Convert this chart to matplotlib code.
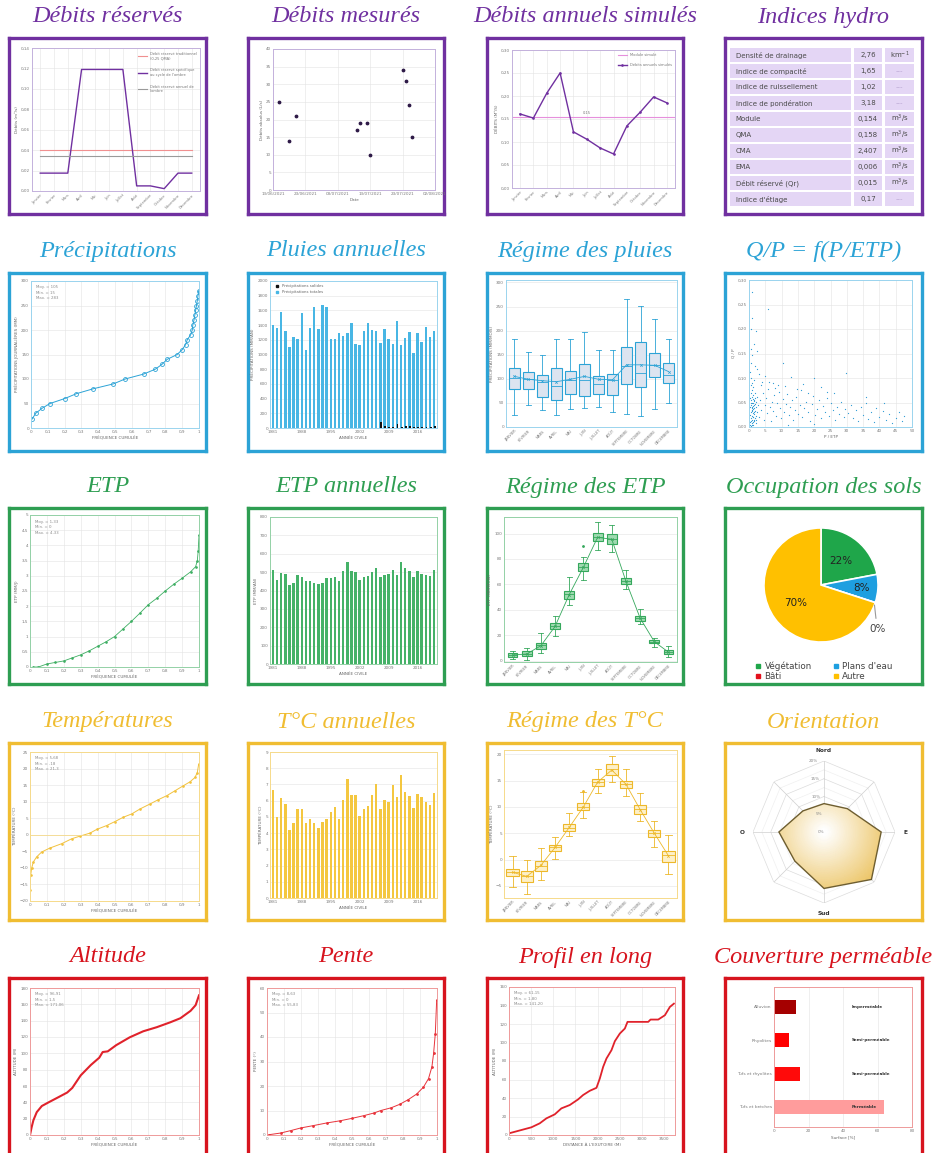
import numpy as np
import pandas as pd
import matplotlib
matplotlib.use("Agg")
import matplotlib.pyplot as plt
import matplotlib.dates as mdates
from matplotlib.colors import LinearSegmentedColormap
from matplotlib.lines import Line2D
from matplotlib.patches import Rectangle
from matplotlib.ticker import FuncFormatter

# ---------------------------------------------------------------- données
MOIS = ["Janvier", "Février", "Mars", "Avril", "Mai", "Juin", "Juillet", "Août",
        "Septembre", "Octobre", "Novembre", "Décembre"]
ANNEES = np.arange(1981, 2021)

qr_traditionnel = 0.040
qr_annuel = 0.034
qr_specifique = [0.0175, 0.0175, 0.0175, 0.119, 0.119, 0.119, 0.119, 0.005, 0.005, 0.0023, 0.0175, 0.0175]

mesure_dates = ["15/06/2021", "18/06/2021", "20/06/2021", "09/07/2021", "10/07/2021", "12/07/2021",
                "13/07/2021", "23/07/2021", "24/07/2021", "25/07/2021", "26/07/2021"]
mesure_debits = [25, 14, 21, 17, 19, 19, 10, 34, 31, 24, 15]

debits_simules = [0.161, 0.152, 0.206, 0.250, 0.122, 0.106, 0.087, 0.074, 0.135, 0.165, 0.198, 0.185]
module_simule = 0.154

indices_noms = ["Densité de drainage", "Indice de compacité", "Indice de ruissellement",
                "Indice de pondération", "Module", "QMA", "CMA", "EMA", "Débit réservé (Qr)",
                "Indice d'étiage"]
indices_valeurs = ["2,76", "1,65", "1,02", "3,18", "0,154", "0,158", "2,407", "0,006", "0,015", "0,17"]
indices_unites = ["km$^{-1}$", "---", "---", "---", "m$^3$/s", "m$^3$/s", "m$^3$/s", "m$^3$/s",
                  "m$^3$/s", "---"]

precip_freq = [0.006, 0.028, 0.065, 0.113, 0.2, 0.27, 0.37, 0.49, 0.56, 0.67, 0.74, 0.78, 0.81, 0.87,
               0.9, 0.92, 0.93, 0.95, 0.96, 0.963, 0.97, 0.975, 0.98, 0.985, 0.99, 0.994, 0.998]
precip_val = [18, 30, 40, 50, 60, 70, 80, 90, 100, 110, 120, 130, 140, 150, 160, 170, 180, 190, 200,
              210, 220, 230, 240, 250, 260, 270, 280]

pluies_totales = [1408, 1367, 1585, 1317, 1107, 1239, 1212, 1558, 1057, 1362, 1645, 1353, 1667, 1645,
                  1216, 1207, 1298, 1257, 1298, 1435, 1139, 1134, 1326, 1430, 1335, 1317, 1152, 1348,
                  1207, 1143, 1458, 1125, 1225, 1303, 1025, 1294, 1171, 1371, 1244, 1317]
pluies_solides = [0, 0, 0, 0, 0, 0, 0, 0, 0, 0, 0, 0, 0, 0, 0, 0, 0, 0, 0, 0, 0, 0, 0, 0, 0, 0,
                  80, 30, 20, 10, 55, 15, 25, 30, 20, 15, 15, 10, 10, 25]

pluie_whishi = [183, 156, 149, 183, 183, 198, 160, 160, 266, 252, 224, 182]
pluie_q3 = [122, 115, 108, 122, 116, 131, 106, 109, 165, 176, 153, 132]
pluie_med = [102, 99, 94, 86, 98, 98, 90, 97, 127, 113, 129, 108]
pluie_q1 = [78, 79, 63, 56, 69, 65, 69, 67, 90, 82, 104, 91]
pluie_whislo = [25, 46, 35, 25, 38, 40, 42, 31, 28, 22, 37, 49]
pluie_moy = [105, 99, 96, 94, 99, 105, 99, 98, 129, 129, 128, 115]

qp_points = [
    (0.2, 0.010), (0.3, 0.025), (0.4, 0.040), (0.5, 0.012), (0.5, 0.055), (0.6, 0.030), (0.6, 0.070),
    (0.7, 0.018), (0.7, 0.045), (0.8, 0.008), (0.8, 0.035), (0.8, 0.062), (0.9, 0.022), (0.9, 0.050),
    (1.0, 0.015), (1.0, 0.040), (1.0, 0.075), (1.1, 0.028), (1.1, 0.058), (1.2, 0.010), (1.2, 0.036),
    (1.2, 0.048), (1.3, 0.020), (1.3, 0.066), (1.4, 0.030), (1.4, 0.044), (1.5, 0.012), (1.5, 0.054),
    (1.6, 0.026), (1.6, 0.038), (1.7, 0.018), (1.7, 0.060), (1.8, 0.032), (1.9, 0.046), (2.0, 0.022),
    (2.1, 0.040), (2.2, 0.015), (2.3, 0.052), (2.5, 0.030), (0.4, 0.005), (0.6, 0.003), (0.9, 0.005),
    (1.1, 0.004), (0.3, 0.060), (0.5, 0.085), (0.8, 0.090), (1.2, 0.082), (1.5, 0.095), (0.7, 0.100),
    (1.9, 0.070), (2.6, 0.062), (2.8, 0.045), (1.0, 0.032), (0.9, 0.038), (1.3, 0.042), (1.1, 0.020),
    (0.6, 0.048), (1.4, 0.056), (1.6, 0.014), (2.0, 0.008),
    (1.0, 0.275), (5.8, 0.240), (0.9, 0.222), (0.6, 0.200), (2.2, 0.196), (1.4, 0.170), (2.4, 0.155),
    (1.0, 0.147), (0.7, 0.130), (10.5, 0.130), (29.8, 0.110), (3.2, 0.108), (0.4, 0.112), (5.0, 0.104),
    (13.0, 0.102), (19.8, 0.100), (2.6, 0.118), (0.5, 0.160), (1.8, 0.125), (4.1, 0.092), (7.5, 0.090),
    (9.0, 0.085), (16.5, 0.088), (22.0, 0.082),
    (3.0, 0.020), (3.4, 0.055), (3.8, 0.035), (4.2, 0.070), (4.5, 0.015), (4.8, 0.045), (5.2, 0.060),
    (5.5, 0.028), (5.9, 0.078), (6.3, 0.040), (6.6, 0.012), (7.0, 0.052), (7.4, 0.032), (7.8, 0.065),
    (8.2, 0.022), (8.6, 0.048), (9.1, 0.072), (9.5, 0.038), (9.9, 0.018), (10.4, 0.058), (10.8, 0.030),
    (11.3, 0.046), (11.7, 0.068), (12.2, 0.025), (12.6, 0.040), (13.1, 0.055), (13.6, 0.015),
    (14.0, 0.034), (14.5, 0.062), (15.0, 0.026), (15.5, 0.044), (16.0, 0.075), (16.4, 0.020),
    (17.0, 0.038), (17.5, 0.052), (18.1, 0.030), (18.6, 0.012), (19.2, 0.046), (19.7, 0.064),
    (20.3, 0.024), (20.8, 0.036), (21.4, 0.055), (22.0, 0.018), (22.6, 0.042), (23.2, 0.030),
    (23.9, 0.060), (24.5, 0.022), (25.1, 0.048), (25.8, 0.034), (26.4, 0.014), (27.0, 0.040),
    (27.7, 0.026), (28.3, 0.052), (29.0, 0.020), (29.6, 0.036), (6.0, 0.092), (8.0, 0.080),
    (11.0, 0.084), (14.8, 0.078), (18.0, 0.070), (24.0, 0.072), (3.6, 0.085), (12.0, 0.005),
    (20.0, 0.006), (26.0, 0.070),
    (30.5, 0.028), (31.2, 0.045), (32.0, 0.018), (32.8, 0.034), (33.5, 0.012), (34.3, 0.040),
    (35.0, 0.024), (35.8, 0.050), (36.6, 0.016), (37.4, 0.030), (38.2, 0.010), (39.0, 0.038),
    (40.0, 0.020), (41.0, 0.032), (42.0, 0.014), (43.0, 0.026), (44.0, 0.008), (45.0, 0.018),
    (46.0, 0.030), (47.0, 0.012), (47.5, 0.022), (36.0, 0.062), (41.5, 0.048),
]

etp_freq = [0.02, 0.05, 0.1, 0.15, 0.2, 0.25, 0.3, 0.35, 0.4, 0.45, 0.5, 0.55, 0.6, 0.65, 0.7, 0.75,
            0.8, 0.85, 0.9, 0.95, 0.98, 0.99, 0.995, 1.0]
etp_val = [0, 0, 0.1, 0.15, 0.2, 0.3, 0.4, 0.53, 0.68, 0.83, 1.0, 1.25, 1.5, 1.77, 2.05, 2.26, 2.5,
           2.72, 2.92, 3.13, 3.3, 3.5, 3.8, 4.33]

etp_annuelle = [514, 455, 496, 489, 428, 442, 482, 475, 453, 453, 442, 435, 442, 469, 469, 471, 451,
                504, 554, 504, 500, 455, 475, 477, 500, 523, 475, 484, 491, 514, 486, 554, 523, 505,
                473, 504, 491, 484, 480, 511]

etp_whishi = [8, 10, 21.8, 35.2, 65.9, 81.6, 109.2, 107, 71.6, 40.9, 18.1, 11.3]
etp_q3 = [6, 7.3, 14.2, 29.4, 54.9, 76.9, 100.5, 99.5, 65.1, 35.4, 16, 8.1]
etp_med = [4.2, 5.2, 12, 27.3, 52.2, 73.8, 97.6, 96, 62.7, 33.6, 15, 6.6]
etp_q1 = [3, 3.4, 9.4, 24.9, 48.8, 70.6, 94.2, 91.6, 60.4, 31.5, 13.9, 5.2]
etp_whislo = [1.3, 0.8, 6, 19.2, 44.1, 63.3, 87.4, 85.3, 56.7, 28.6, 10.8, 2.9]
etp_moy = [4.5, 5.3, 11.8, 27, 52, 73.5, 97, 95.5, 62.5, 33.5, 15, 6.7]
etp_fliers = {5: [90]}

sols_noms = ["Végétation", "Plans d'eau", "Bâti", "Autre"]
sols_parts = [22, 8, 0, 70]
sols_couleurs = ["#1FA64A", "#1E9FE0", "#E3101C", "#FFC000"]

temp_freq = [0.0, 0.004, 0.01, 0.02, 0.039, 0.069, 0.118, 0.187, 0.247, 0.296, 0.355, 0.394, 0.454,
             0.503, 0.552, 0.602, 0.651, 0.71, 0.759, 0.809, 0.858, 0.907, 0.947, 0.976, 0.99, 0.998]
temp_val = [-16.7, -12.2, -10, -8.2, -6.7, -5.2, -4, -2.7, -1.2, -0.4, 0.5, 1.6, 2.8, 4, 5.3, 6.3,
            7.8, 9.3, 10.6, 11.8, 13.3, 14.8, 16, 17.3, 18.8, 21.3]

temp_annuelle = [6.65, 5.0, 6.18, 5.8, 4.2, 4.6, 5.5, 5.5, 4.6, 4.9, 4.6, 4.3, 4.7, 4.9, 5.3, 5.6, 4.9,
                 6.07, 7.34, 6.38, 6.34, 5.05, 5.5, 5.7, 6.38, 7.0, 5.5, 6.03, 5.93, 6.95, 6.24, 7.59,
                 6.54, 6.28, 5.56, 6.42, 6.24, 5.93, 5.73, 6.5]

t_whishi = [0.6, -0.1, 2.1, 4.3, 8.8, 12.8, 17.1, 19.7, 17.1, 12.6, 7.4, 4.6]
t_q3 = [-1.7, -2.1, -0.3, 2.8, 6.8, 10.7, 15.3, 18.1, 15.0, 10.4, 5.7, 1.7]
t_med = [-2.3, -3.1, -1.2, 2.3, 6.0, 10.0, 14.7, 17.1, 14.4, 9.6, 5.1, 0.8]
t_q1 = [-3.1, -4.2, -2.1, 1.7, 5.4, 9.4, 14.0, 16.1, 13.5, 8.6, 4.2, -0.4]
t_whislo = [-5.2, -6.5, -3.9, 0.1, 4.4, 7.9, 12.7, 14.8, 12.0, 7.4, 2.4, -2.8]
t_moy = [-2.4, -3.2, -1.1, 2.3, 6.1, 10.0, 14.7, 17.0, 14.3, 9.5, 5.0, 0.7]
t_fliers = {5: [13.1]}

orient_dirs = ["N", "NE", "E", "SE", "S", "SO", "O", "NO"]
orient_parts = [8.0, 9.3, 16.1, 18.9, 15.9, 11.6, 12.7, 8.4]

alt_freq = [0, 0.01, 0.02, 0.04, 0.07, 0.11, 0.17, 0.22, 0.25, 0.3, 0.36, 0.41, 0.43, 0.46, 0.51,
            0.59, 0.67, 0.75, 0.83, 0.89, 0.95, 0.98, 1.0]
alt_val = [0, 9.8, 18, 28, 35.5, 40, 46.5, 52, 57.6, 73, 85.7, 94.7, 101.6, 102.4, 110, 119.6, 127,
           132, 138, 143, 152, 159, 171]

pente_freq = [0.01, 0.08, 0.14, 0.2, 0.27, 0.35, 0.43, 0.5, 0.57, 0.63, 0.67, 0.73, 0.78, 0.83, 0.88,
              0.92, 0.95, 0.97, 0.98, 0.99, 0.998]
pente_val = [0.1, 0.8, 1.8, 2.9, 3.8, 4.9, 5.8, 6.8, 7.9, 9.0, 10, 11.1, 12.5, 14.4, 16.7, 19.5, 23,
             27.8, 33.3, 41.4, 55]

profil_dist = [0, 280, 505, 694, 845, 1033, 1184, 1373, 1561, 1674, 1825, 1976, 2051, 2127, 2202,
               2315, 2391, 2504, 2617, 2677, 3145, 3198, 3371, 3522, 3635, 3725]
profil_alt = [1.8, 5.4, 8.3, 12.6, 18, 22.3, 28.8, 32.4, 38.5, 43.2, 47.8, 51, 61, 73.7, 82.7, 91.7,
              101.4, 109.7, 115.1, 122.3, 122.3, 124.8, 124.8, 129.5, 138.5, 142]

geol_noms = ["Alluvion", "Rhyolites", "Tufs et rhyolites", "Tufs et brèches"]
geol_surface = [12.7, 8.9, 15.2, 63.8]
geol_perm = ["Imperméable", "Semi-perméable", "Semi-perméable", "Perméable"]
geol_couleurs = ["#A50000", "#FF0000", "#FF0A0A", "#FF9C9C"]

# ---------------------------------------------------------------- mise en page
PURPLE, PURPLE_L = "#7030A0", "#C3B1DC"
BLUE, BLUE_L = "#2CA3D6", "#9AD4EE"
GREEN, GREEN_L = "#2E9E52", "#93D1A6"
GOLD, GOLD_L = "#F0BD32", "#F6DA8A"
RED, RED_L = "#D7141E", "#EE9A9A"

W, H = 949, 1153
fig = plt.figure(figsize=(W / 100, H / 100), dpi=100)
fig.patch.set_facecolor("white")

COLS = [(9, 206), (248, 444), (487, 683), (725, 922)]
ROWS = [(38, 214), (273, 451), (508, 684), (743, 920), (978, 1175)]
TITLE_Y = [17, 251, 487, 722, 957]


def rect(l, t, r, b):
    return [l / W, 1 - b / H, (r - l) / W, (b - t) / H]


def frame(col, row, title, color):
    l, r = COLS[col]
    t, b = ROWS[row]
    ax = fig.add_axes(rect(l, t, r, b))
    ax.set_xticks([])
    ax.set_yticks([])
    for s in ax.spines.values():
        s.set_color(color)
        s.set_linewidth(2.4)
    fig.text((l + r) / 2 / W, 1 - TITLE_Y[row] / H, title, ha="center", va="center",
             fontsize=17.5, style="italic", family="Liberation Serif", color=color)
    return ax


def inner(l, t, r, b, edge):
    ax = fig.add_axes(rect(l, t, r, b))
    ax.tick_params(labelsize=3, length=0, pad=1.5, colors="#7a7a7a")
    for s in ax.spines.values():
        s.set_color(edge)
        s.set_linewidth(0.7)
    ax.grid(color="#e4e4e4", lw=0.4)
    ax.set_axisbelow(True)
    return ax


def comma(fmt):
    return FuncFormatter(lambda v, _: format(v, fmt).replace(".", ","))


def label(ax, xl=None, yl=None):
    if xl:
        ax.set_xlabel(xl, fontsize=3, color="#666", labelpad=1.5)
    if yl:
        ax.set_ylabel(yl, fontsize=3, color="#666", labelpad=1.5)


def month_ticks(ax, upper=False):
    ax.set_xticks(range(12))
    ax.set_xticklabels([m.upper() if upper else m for m in MOIS], rotation=45, ha="right",
                       rotation_mode="anchor", fontsize=2.6)
    ax.set_xlim(-0.6, 11.6)


def stats_box(ax, lines):
    ax.text(0.03, 0.97, "\n".join(lines), transform=ax.transAxes, fontsize=2.8, va="top",
            color="#8a8a8a", linespacing=1.5)


def cumul(ax, xs, ys, color, **kw):
    ax.plot(xs, ys, color=color, **kw)
    ax.set_xlim(0, 1)
    ax.set_xticks(np.arange(0, 1.01, 0.1))
    ax.xaxis.set_major_formatter(comma("g"))
    label(ax, "FRÉQUENCE CUMULÉE")


def annual(ax, values, color, ylabel, ylim, ystep):
    ax.bar(ANNEES, values, width=0.6, color=color, zorder=2)
    ax.set_xlim(1980.3, 2020.7)
    ax.set_xticks([1981, 1988, 1995, 2002, 2009, 2016])
    ax.set_ylim(*ylim)
    ax.set_yticks(np.arange(ylim[0], ylim[1] + 0.01, ystep))
    ax.grid(axis="x", visible=False)
    label(ax, "ANNÉE CIVILE", ylabel)


def regime(ax, whislo, q1, med, q3, whishi, moy, fliers, face, edge, width):
    stats = []
    for i in range(12):
        stats.append(dict(whislo=whislo[i], q1=q1[i], med=med[i], q3=q3[i], whishi=whishi[i],
                          fliers=fliers.get(i, [])))
    ax.bxp(stats, positions=range(12), widths=width, patch_artist=True, showfliers=True,
           boxprops=dict(facecolor=face, edgecolor=edge, lw=0.8),
           medianprops=dict(color=edge, lw=0.6),
           whiskerprops=dict(color=edge, lw=0.6), capprops=dict(color=edge, lw=0.6),
           flierprops=dict(marker="o", ms=1, mfc=edge, mec=edge))
    ax.plot(range(12), moy, color=edge, lw=0.6, marker="x", ms=1.8, mew=0.5, zorder=4)
    ax.grid(axis="x", visible=False)
    month_ticks(ax, upper=True)


# ---------------------------------------------------------------- ligne 1
frame(0, 0, "Débits réservés", PURPLE)
ax = inner(32, 48, 200, 191, PURPLE_L)
mx = np.arange(12)
ax.plot(mx, [qr_traditionnel] * 12, color="#F09090", lw=0.8, label="Débit réservé traditionnel\n(0,25 QMA)")
ax.plot(mx, qr_specifique, color=PURPLE, lw=1.0, label="Débit réservé spécifique\nau cycle de l'ombre")
ax.plot(mx, [qr_annuel] * 12, color="#9a9a9a", lw=0.8, label="Débit réservé annuel de\nl'ombre")
ax.set_ylim(0, 0.14)
ax.set_yticks(np.arange(0, 0.141, 0.02))
ax.yaxis.set_major_formatter(comma(".2f"))
month_ticks(ax)
label(ax, None, "Débits (m³/s)")
ax.legend(loc="upper right", fontsize=2.6, frameon=False, handlelength=2.5, labelspacing=2.2,
          borderaxespad=0.6, labelcolor="#777")

frame(1, 0, "Débits mesurés", PURPLE)
ax = inner(273, 49, 435, 190, PURPLE_L)
ax.scatter(pd.to_datetime(mesure_dates, dayfirst=True), mesure_debits, s=3, color="#2E1A47", zorder=3)
ax.set_xlim(pd.Timestamp("2021-06-13"), pd.Timestamp("2021-08-02"))
ax.set_xticks(pd.date_range("2021-06-13", "2021-08-02", freq="10D"))
ax.xaxis.set_major_formatter(mdates.DateFormatter("%d/%m/%Y"))
ax.set_ylim(0, 40)
ax.set_yticks(range(0, 41, 5))
label(ax, "Date", "Débits absolus (L/s)")

frame(2, 0, "Débits annuels simulés", PURPLE)
ax = inner(512, 50, 675, 188, PURPLE_L)
ax.axhline(module_simule, color="#E690DC", lw=0.8, label="Module simulé")
ax.plot(mx, debits_simules, color=PURPLE, lw=1.0, marker="o", ms=0.9, label="Débits annuels simulés")
ax.text(5, module_simule + 0.006, format(module_simule, ".2f").replace(".", ","), fontsize=2.6,
        color="#777", ha="center")
ax.set_ylim(0, 0.30)
ax.set_yticks(np.arange(0, 0.301, 0.05))
ax.yaxis.set_major_formatter(comma(".2f"))
month_ticks(ax)
label(ax, None, "DÉBITS (M³/S)")
ax.legend(loc="upper right", fontsize=2.6, frameon=False, handlelength=2.5, labelspacing=1.6,
          labelcolor="#777")

frame(3, 0, "Indices hydro", PURPLE)
ax = fig.add_axes(rect(730, 47, 914, 207))
ax.set_axis_off()
ax.set_xlim(0, 1)
ax.set_ylim(len(indices_noms), 0)
col_x = [(0.0, 0.655), (0.672, 0.828), (0.845, 1.0)]
for i, (nom, val, unit) in enumerate(zip(indices_noms, indices_valeurs, indices_unites)):
    for x0, x1 in col_x:
        ax.add_patch(Rectangle((x0, i + 0.06), x1 - x0, 0.88, color="#E4D6F5", lw=0))
    ax.text(0.03, i + 0.52, nom, fontsize=5, va="center", color="#4a4a4a")
    ax.text(0.75, i + 0.52, val, fontsize=5, va="center", ha="center", color="#4a4a4a")
    ax.text(0.922, i + 0.52, unit, fontsize=5, va="center", ha="center",
            color="#b9a6d2" if unit == "---" else "#4a4a4a")

# ---------------------------------------------------------------- ligne 2
frame(0, 1, "Précipitations", BLUE)
ax = inner(31, 281, 199, 428, BLUE_L)
cumul(ax, precip_freq, precip_val, BLUE, lw=0.7, marker="o", ms=2.8, mfc="none", mew=0.6)
ax.set_ylim(0, 300)
ax.set_yticks(range(0, 301, 50))
label(ax, None, "PRÉCIPITATIONS JOURNALIÈRES (MM)")
stats_box(ax, ["Moy. = 105", "Min. = 15", "Max. = 283"])

frame(1, 1, "Pluies annuelles", BLUE)
ax = inner(270, 281, 437, 428, BLUE_L)
annual(ax, pluies_totales, "#48B6E4", "PRÉCIPITATIONS (MM/AN)", (0, 2000), 200)
ax.bar(ANNEES + 0.15, pluies_solides, width=0.45, color="#111111", zorder=3)
ax.legend(handles=[Line2D([], [], marker="s", ls="", color="#111", ms=1.8),
                   Line2D([], [], marker="s", ls="", color="#48B6E4", ms=1.8)],
          labels=["Précipitations solides", "Précipitations totales"], loc="upper left",
          fontsize=2.8, frameon=False, handletextpad=0.3, labelcolor="#666")

frame(2, 1, "Régime des pluies", BLUE)
ax = inner(506, 280, 677, 427, BLUE_L)
regime(ax, pluie_whislo, pluie_q1, pluie_med, pluie_q3, pluie_whishi, pluie_moy, {},
       "#DCE4F0", BLUE, 0.8)
ax.set_ylim(0, 305)
ax.set_yticks(range(0, 301, 50))
label(ax, None, "PRÉCIPITATIONS (MM/MOIS)")

frame(3, 1, "Q/P = f(P/ETP)", BLUE)
ax = inner(749, 280, 912, 427, BLUE_L)
ax.scatter([p[0] for p in qp_points], [p[1] for p in qp_points], s=0.8, color="#2E9BD6", lw=0)
ax.set_xlim(0, 50)
ax.set_xticks(range(0, 51, 5))
ax.set_ylim(0, 0.30)
ax.set_yticks(np.arange(0, 0.301, 0.05))
ax.yaxis.set_major_formatter(comma(".2f"))
label(ax, "P / ETP", "Q / P")

# ---------------------------------------------------------------- ligne 3
frame(0, 2, "ETP", GREEN)
ax = inner(30, 515, 199, 667, GREEN_L)
cumul(ax, etp_freq, etp_val, "#3DAE62", lw=0.6, marker="o", ms=0.9)
ax.set_ylim(0, 5)
ax.set_yticks(np.arange(0, 5.01, 0.5))
ax.yaxis.set_major_formatter(comma("g"))
label(ax, None, "ETP (MM/J)")
stats_box(ax, ["Moy. = 1,33", "Min. = 0", "Max. = 4,33"])

frame(1, 2, "ETP annuelles", GREEN)
ax = inner(270, 517, 437, 664, GREEN_L)
annual(ax, etp_annuelle, "#45B268", "ETP (MM/AN)", (0, 800), 100)

frame(2, 2, "Régime des ETP", GREEN)
ax = inner(504, 517, 677, 662, GREEN_L)
regime(ax, etp_whislo, etp_q1, etp_med, etp_q3, etp_whishi, etp_moy, etp_fliers,
       "#9ED9B0", "#35A85C", 0.7)
ax.set_ylim(-1, 113)
ax.set_yticks(range(0, 101, 20))
label(ax, None, "ETP (MM/MOIS)")

frame(3, 2, "Occupation des sols", GREEN)
ax = fig.add_axes(rect(744, 508, 898, 662))
wedges, _ = ax.pie(sols_parts, colors=sols_couleurs, startangle=90, counterclock=False,
                   wedgeprops=dict(edgecolor="white", lw=1.2))
ax.set_xlim(-1.35, 1.35)
ax.set_ylim(-1.35, 1.35)
ax.set_aspect("equal")
ax.patch.set_visible(False)
for w, part in zip(wedges, sols_parts):
    ang = np.deg2rad((w.theta1 + w.theta2) / 2)
    txt = f"{part}%"
    if part == 0:
        ax.annotate(txt, xy=(0.98 * np.cos(ang), 0.98 * np.sin(ang)),
                    xytext=(1.25 * np.cos(ang - 0.35), 1.25 * np.sin(ang - 0.35)),
                    fontsize=7.5, color="#444", ha="center", va="center",
                    arrowprops=dict(arrowstyle="-", color="#999", lw=0.8))
    else:
        rr = 0.55 if part > 10 else 0.72
        ax.text(rr * np.cos(ang), rr * np.sin(ang), txt, fontsize=7.5, color="#222",
                ha="center", va="center")
order = [0, 2, 1, 3]
fig.legend([Line2D([], [], marker="s", ls="", color=sols_couleurs[i], ms=3.2) for i in order],
           [sols_noms[i] for i in order], loc="upper left",
           bbox_to_anchor=(747 / W, 1 - 654 / H), ncol=2, fontsize=6.3, frameon=False,
           handlelength=0.8, handletextpad=0.3, columnspacing=2.4, labelspacing=0.1,
           labelcolor="#444")

# ---------------------------------------------------------------- ligne 4
frame(0, 3, "Températures", GOLD)
ax = inner(30, 752, 199, 901, GOLD_L)
cumul(ax, temp_freq, temp_val, "#F2C23E", lw=0.7, marker="o", ms=0.9)
ax.axhline(0, color=GOLD_L, lw=0.6)
ax.set_ylim(-20, 25)
ax.set_yticks(range(-20, 26, 5))
label(ax, None, "TEMPÉRATURE (°C)")
stats_box(ax, ["Moy. = 5,68", "Min. = -18", "Max. = 21,3"])

frame(1, 3, "T°C annuelles", GOLD)
ax = inner(270, 752, 437, 898, GOLD_L)
annual(ax, temp_annuelle, "#F4C740", "TEMPÉRATURE (°C)", (0, 9), 1)

frame(2, 3, "Régime des T°C", GOLD)
ax = inner(504, 750, 677, 898, GOLD_L)
regime(ax, t_whislo, t_q1, t_med, t_q3, t_whishi, t_moy, t_fliers, "#FDF0C8", "#EDB82A", 0.85)
ax.set_ylim(-7.3, 20.8)
ax.set_yticks(range(-5, 21, 5))
label(ax, None, "TEMPÉRATURE (°C)")

frame(3, 3, "Orientation", GOLD)
ax = fig.add_axes(rect(753, 761, 895, 903), projection="polar")
ax.set_theta_zero_location("N")
ax.set_theta_direction(-1)
ax.set_ylim(0, 20)
ax.grid(False)
ax.spines["polar"].set_visible(False)
ax.set_xticks([])
ax.set_yticks([])
ax.patch.set_alpha(0)
angles = np.deg2rad(np.arange(0, 360, 360 / len(orient_dirs)))
closed = np.append(angles, angles[0])
for r in [2.5, 5, 7.5, 10, 12.5, 15, 17.5, 20]:
    ax.plot(closed, [r] * len(closed), color="#dcdcdc" if r % 5 == 0 else "#f0f0f0", lw=0.5)
for a in angles:
    ax.plot([a, a], [0, 20], color="#cfcfcf", lw=0.5)
vals = orient_parts + orient_parts[:1]
poly = ax.fill(closed, vals, facecolor="none", edgecolor="#6E5E30", lw=1.0, zorder=4)[0]
th = np.linspace(0, 2 * np.pi, 181)
rr = np.linspace(0, 20, 41)
TH, RR = np.meshgrid(th, rr)
grad = LinearSegmentedColormap.from_list("or", ["#FFFFFF", "#ECC566"])
mesh = ax.pcolormesh(TH, RR, RR, cmap=grad, vmin=1, vmax=19, shading="gouraud", zorder=3)
mesh.set_clip_path(poly)
for r in [0, 5, 10, 15, 20]:
    ax.text(np.deg2rad(-5), r, f"{r}%", fontsize=3, color="#888", ha="right", va="center", zorder=5)
for a, txt in zip([0, 90, 180, 270], ["Nord", "E", "Sud", "O"]):
    ax.text(np.deg2rad(a), 23, txt, fontsize=4.2, fontweight="bold", color="#333",
            ha="center", va="center")

# ---------------------------------------------------------------- ligne 5
frame(0, 4, "Altitude", RED)
ax = inner(30, 988, 199, 1135, RED_L)
cumul(ax, alt_freq, alt_val, "#E0222B", lw=1.5)
ax.set_ylim(0, 180)
ax.set_yticks(range(0, 181, 20))
label(ax, None, "ALTITUDE (M)")
stats_box(ax, ["Moy. = 96,91", "Min. = 1,5", "Max. = 171,06"])

frame(1, 4, "Pente", RED)
ax = inner(267, 988, 437, 1135, RED_L)
cumul(ax, pente_freq, pente_val, "#E8333B", lw=0.7, marker="o", ms=1.0)
ax.set_ylim(0, 60)
ax.set_yticks(range(0, 61, 10))
label(ax, None, "PENTE (°)")
stats_box(ax, ["Moy. = 8,63", "Min. = 0", "Max. = 55,83"])

frame(2, 4, "Profil en long", RED)
ax = inner(509, 987, 675, 1135, RED_L)
ax.plot(profil_dist, profil_alt, color="#E0222B", lw=1.3)
ax.set_xlim(0, 3750)
ax.set_xticks(range(0, 3501, 500))
ax.set_ylim(0, 160)
ax.set_yticks(range(0, 161, 20))
label(ax, "DISTANCE À L'EXUTOIRE (M)", "ALTITUDE (M)")
stats_box(ax, ["Moy. = 61,15", "Min. = 1,80", "Max. = 141,20"])

frame(3, 4, "Couverture perméable", RED)
ax = inner(774, 987, 912, 1127, RED_L)
ypos = np.arange(len(geol_noms))
ax.barh(ypos, geol_surface, color=geol_couleurs, height=0.42, zorder=2)
for y, txt in zip(ypos, geol_perm):
    ax.text(45, y, txt, fontsize=3, fontweight="bold", color="#333", va="center")
ax.set_yticks(ypos)
ax.set_yticklabels(geol_noms, fontsize=3.2)
ax.set_ylim(3.6, -0.6)
ax.set_xlim(0, 80)
ax.set_xticks(range(0, 81, 20))
ax.grid(axis="y", visible=False)
label(ax, "Surface [%]")

fig.savefig("out.png", dpi=100)
